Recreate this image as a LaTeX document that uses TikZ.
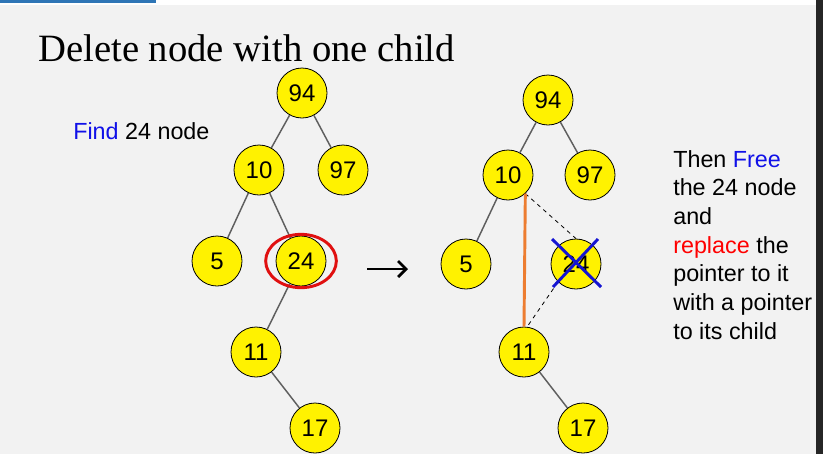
\documentclass[tikz,border=0pt]{standalone}
\usepackage{fontspec}
\setmainfont{Liberation Serif}
\newfontfamily\arialfont{Liberation Sans}
\usepackage{xcolor}
\usetikzlibrary{arrows.meta}
\definecolor{bggray}{HTML}{F2F2F2}
\definecolor{edgegray}{HTML}{5F5F5F}
\definecolor{barblue}{HTML}{2E75B6}
\definecolor{stripdark}{HTML}{262626}
\definecolor{txtblue}{HTML}{1010E8}
\definecolor{crossblue}{HTML}{1414D2}
\definecolor{ringred}{HTML}{E01010}
\definecolor{ptrorange}{HTML}{ED7D31}

\begin{document}
\begin{tikzpicture}[x=0.75pt,y=-0.75pt,
    key/.style={circle, draw, fill=yellow, line width=0.6pt, minimum size=37.5pt, inner sep=0pt,
      font=\arialfont\fontsize{18}{21}\selectfont},
    edge/.style={draw=edgegray, line width=1.1pt},
    txt/.style={inner sep=0pt, font=\arialfont\fontsize{17.5}{21.5}\selectfont}]
    % page
    \fill[bggray] (0,0) rectangle (823,454);
    \fill[white] (0,0) rectangle (823,5);
    \fill[barblue] (0,0) rectangle (156,3);
    \node[anchor=base west, inner sep=0pt, font=\fontsize{29}{34}\selectfont] (title) at (38,61) {Delete node with one child};
    \node[txt, anchor=base west] (find) at (73,139) {\textcolor{txtblue}{Find} 24 node};
    % tree before
    \node[key] (l94) at (302,93) {94};
    \node[key] (l10) at (259,170) {10};
    \node[key] (l97) at (343,170) {97};
    \node[key] (l5) at (217,261) {5};
    \node[key] (l24) at (301,261) {24};
    \node[key] (l11) at (256,352) {11};
    \node[key] (l17) at (315,428) {17};
    \foreach \from/\to in
    {l94/l10,l94/l97,l10/l5,l10/l24,l24/l11,l11/l17}
    \draw[edge] (\from) -- (\to);
    \draw[ringred, line width=2.2pt] (l24) ellipse [x radius=26.5pt, y radius=20pt];
    % arrow
    \coordinate (arrS) at (367,269);
    \coordinate (arrE) at (408,269);
    \draw[-{Straight Barb[length=6pt,width=12pt]}, line width=2pt] (arrS) -- (arrE);
    % tree after
    \node[key] (r94) at (548,100) {94};
    \node[key] (r10) at (508,175) {10};
    \node[key] (r97) at (590,175) {97};
    \node[key] (r5) at (466,264) {5};
    \node[key] (r24) at (576,264) {24};
    \node[key] (r11) at (524,352) {11};
    \node[key] (r17) at (583,428) {17};
    \foreach \from/\to in
    {r94/r10,r94/r97,r10/r5,r11/r17}
    \draw[edge] (\from) -- (\to);
    \draw[dashed, line width=0.6pt] (r10.-47) -- (r24.north);
    \draw[dashed, line width=0.6pt] (r24.225) -- (r11.83);
    \draw[ptrorange, line width=2.2pt] (r10.-47) -- (r11.north);
    \draw[crossblue, line width=2.2pt] ([shift={(-24,-25)}]r24.center) -- ([shift={(25,23)}]r24.center);
    \draw[crossblue, line width=2.2pt] ([shift={(22,-25)}]r24.center) -- ([shift={(-23,23)}]r24.center);
    % note
    \node[txt, anchor=north west, align=left] (note) at (673,150)
      {Then \textcolor{txtblue}{Free}\\the 24 node\\and\\\textcolor{red}{replace} the\\pointer to it\\with a pointer\\to its child};
    \fill[stripdark] (816,0) rectangle (823,454);
\end{tikzpicture}
\end{document}
